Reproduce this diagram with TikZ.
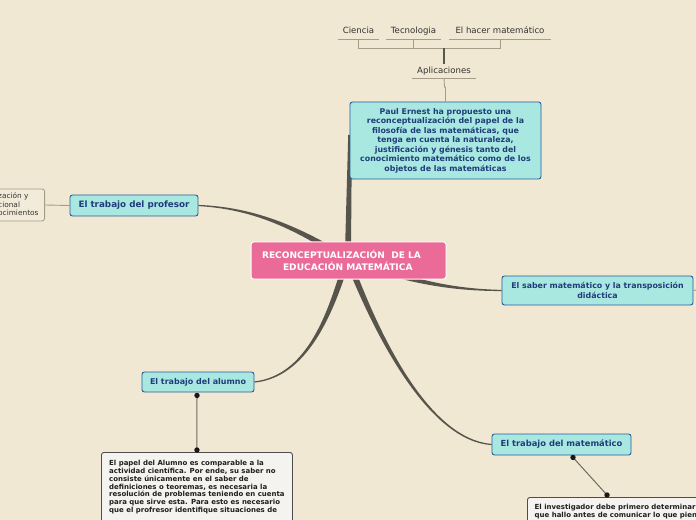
\documentclass[tikz,border=0pt]{standalone}
\usepackage{fontspec}
\setmainfont{DejaVu Sans}
\usetikzlibrary{calc}
\pgfdeclarelayer{bg}
\pgfsetlayers{bg,main}
\definecolor{bgc}{HTML}{F0E8D2}
\definecolor{cyanfill}{HTML}{A9E7E1}
\definecolor{cyanborder}{HTML}{2A5A9A}
\definecolor{cyantext}{HTML}{1F3D7A}
\definecolor{pinkfill}{HTML}{EA6B98}
\definecolor{branchc}{HTML}{57544B}
\definecolor{thinc}{HTML}{A59D8A}
\definecolor{darkline}{HTML}{5A574F}
\definecolor{labeltext}{HTML}{333333}
\definecolor{boxfill}{HTML}{F4F3EF}
\definecolor{boxborder}{HTML}{4D4D4D}
\definecolor{dotlinec}{HTML}{6E6A60}
\newcommand{\taperbranch}[8]{%
 \fill[branchc] ($#1!#5!90:#2$) .. controls ($#2!#6!-90:#1$) and ($#3!#7!90:#4$) .. ($#4!#8!-90:#3$)
 -- ($#4!#8!90:#3$) .. controls ($#3!#7!-90:#4$) and ($#2!#6!90:#1$) .. ($#1!#5!-90:#2$) -- cycle;}
\tikzset{
 cyanbox/.style={draw=cyanborder, fill=cyanfill, rounded corners=2.5bp, line width=0.9bp,
   text=cyantext, inner sep=0pt, align=center},
 pinkbox/.style={draw=white, fill=pinkfill, rounded corners=2.5bp, line width=1bp,
   text=white, inner sep=0pt, align=left, font=\bfseries\fontsize{9.1}{11.5}\selectfont},
 ulabel/.style={inner sep=0pt, text=labeltext, font=\fontsize{8.6}{10}\selectfont, text height=6.5bp, text depth=1.8bp},
 uline/.style={thinc, line width=0.9bp},
 txtbox/.style={draw=boxborder, fill=boxfill, rounded corners=2.5bp, line width=0.9bp, inner sep=0pt},
 txtbody/.style={inner sep=0pt, align=left, text=black!88, font=\bfseries\fontsize{7}{7.9}\selectfont},
 dotline/.style={dotlinec, line width=1bp},
 dotmark/.style={fill=black!90, draw=none},
}
\begin{document}
\begin{tikzpicture}[x=1bp,y=-1bp]
\useasboundingbox (0,0) rectangle (696,520);
\clip (0,0) rectangle (696,520);
% top labels
\node[ulabel, minimum width=41bp, minimum height=16bp] (cien) at (358.5,31) {Ciencia};
\node[ulabel, minimum width=55bp, minimum height=16bp] (tec) at (413.5,31) {Tecnologia};
\node[ulabel, minimum width=102bp, minimum height=16bp] (hacer) at (500,31) {El hacer matemático};
\node[ulabel, minimum width=64bp, minimum height=14bp] (aplic) at (444,71) {Aplicaciones};
\foreach \n in {cien,tec,hacer,aplic}{\draw[uline] (\n.south west) -- (\n.south east);}
\draw[uline] (cien.south) -- ++(0,9) coordinate (bl) -- ($(hacer.south)+(0,9)$) coordinate (br) -- (hacer.south);
\draw[uline] (tec.south) -- ++(0,9);
\draw[darkline, line width=1.2bp] (aplic.north |- bl) -- (aplic.north);
% main nodes
\node[cyanbox, minimum width=191bp, minimum height=77bp, font=\bfseries\fontsize{7.9}{9.5}\selectfont] (paul) at (445.5,140.5)
 {Paul Ernest ha propuesto una\\reconceptualización del papel de la\\filosofía de las matemáticas, que\\tenga en cuenta la naturaleza,\\justificación y génesis tanto del\\conocimiento matemático como de los\\objetos de las matemáticas};
\draw[uline] (aplic.south) -- ++(0.5,9) coordinate (ak) -- (ak -| paul.north) -- (paul.north);
\node[pinkbox, minimum width=195bp, minimum height=37bp] (center) at (348.5,260.5)
 {RECONCEPTUALIZACIÓN\ \ DE LA\hspace*{14bp}\\\hspace*{21bp}EDUCACIÓN MATEMÁTICA};
\node[cyanbox, minimum width=128bp, minimum height=21bp, font=\bfseries\fontsize{8.8}{10}\selectfont] (prof) at (134,205.5) {El trabajo del profesor};
\node[cyanbox, minimum width=191bp, minimum height=29bp, font=\bfseries\fontsize{7.9}{10}\selectfont] (saber) at (597.5,290.5) {El saber matemático y la transposición\\didáctica};
\node[cyanbox, minimum width=112bp, minimum height=20bp, font=\bfseries\fontsize{8}{10}\selectfont] (alumno) at (198,382) {El trabajo del alumno};
\node[cyanbox, minimum width=139bp, minimum height=21bp, font=\bfseries\fontsize{8.4}{10}\selectfont] (mat) at (561.5,444.5) {El trabajo del matemático};
% left partial box
\node[draw=thinc, fill=bgc!85!white, rounded corners=2.5bp, line width=0.9bp, minimum width=100bp, minimum height=32bp, anchor=east, inner sep=0pt] (leftbox) at (45,205) {};
\node[inner sep=0pt, anchor=north west, align=left, text=labeltext, font=\fontsize{7.4}{8.7}\selectfont] (lefttxt) at (-2,192.5) {zación y\\cional\\ocimientos};
\draw[uline] (leftbox.east) -- (prof.west);
\coordinate (sabout) at (702,289);
\draw[uline] (saber.east) -- (sabout);
% text boxes
\node[txtbox, anchor=north west, minimum width=191bp, minimum height=110bp] (alumbox) at (101,452) {};
\node[txtbody, anchor=north west] (alumtxt) at (109,460) {El papel del Alumno es comparable a la\\actividad científica. Por ende, su saber no\\consiste únicamente en el saber de\\definiciones o teoremas, es necesaria la\\resolución de problemas teniendo en cuenta\\para que sirve esta. Para esto es necesario\\que el profresor identifique situaciones de};
\node[txtbox, anchor=north west, minimum width=200bp, minimum height=60bp] (matbox) at (527,497) {};
\node[txtbody, anchor=north west] (mattxt) at (534.5,504) {El investigador debe primero determinar\\que hallo antes de comunicar lo que piensa};
% dot connectors
\coordinate (ad1) at ($(alumno.south)+(-1,3)$);
\coordinate (ad2) at ($(alumbox.north)+(0,-2)$);
\draw[dotline] (ad1) -- (ad2);
\fill[dotmark] (ad1) circle (2.7bp) (ad2) circle (2.7bp);
\coordinate (md1) at ($(mat.south)+(11.5,2)$);
\coordinate (md2) at ($(matbox.north west)+(80,-2)$);
\draw[dotline] (md1) -- (md2);
\fill[dotmark] (md1) circle (2.7bp) (md2) circle (2.7bp);
% branches
\begin{pgfonlayer}{bg}
\fill[bgc] (0,0) rectangle (696,520);
\taperbranch{(348,252)}{(348.5,220)}{(349.5,170)}{(350,135)}{3bp}{2.7bp}{2.2bp}{1.8bp}
\taperbranch{(332,250)}{(290,225)}{(250,208)}{(prof.east)}{3bp}{2bp}{1bp}{0.6bp}
\taperbranch{(400,276)}{(440,287)}{(470,290)}{(saber.west)}{2.5bp}{1.6bp}{0.9bp}{0.6bp}
\taperbranch{(343,272)}{(325,330)}{(300,377)}{(alumno.east)}{3bp}{2bp}{1bp}{0.6bp}
\taperbranch{(353,272)}{(380,340)}{(430,440)}{(mat.west)}{3bp}{2bp}{1bp}{0.6bp}
\end{pgfonlayer}
\end{tikzpicture}
\end{document}
